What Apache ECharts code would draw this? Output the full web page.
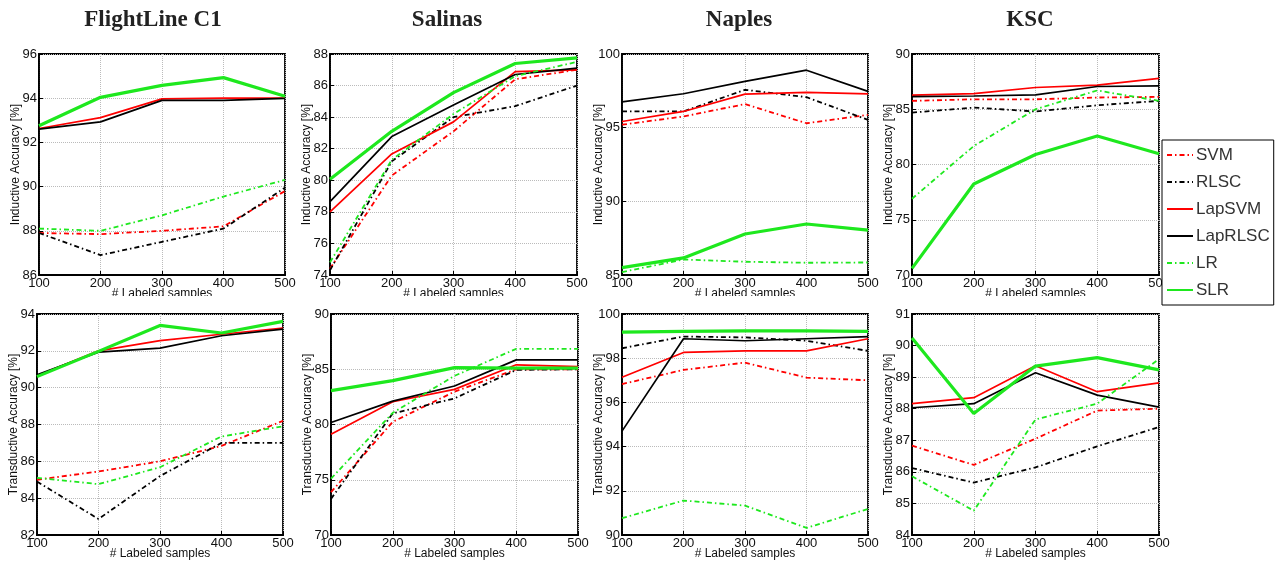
<!DOCTYPE html>
<html lang="en">
<head>
    <meta charset="UTF-8">
    <title>Inductive / Transductive accuracy</title>
    <style>
        html, body { margin: 0; padding: 0; background: #fff; }
        #container { width: 1276px; height: 561px; }
    </style>
    <script src="https://cdn.jsdelivr.net/npm/echarts@6/dist/echarts.min.js"></script>
</head>
<body>
<div id="container"></div>
<script type="text/javascript">
    // x values and names
    const xSamples = [100, 200, 300, 400, 500];
    const datasets = ['FlightLine C1', 'Salinas', 'Naples', 'KSC'];
    const methods = ['SVM', 'RLSC', 'LapSVM', 'LapRLSC', 'LR', 'SLR'];

    // inductive accuracy, one row per dataset
    const svmInd = [
        [87.9, 87.85, 88.0, 88.2, 89.8],
        [74.4, 80.3, 83.1, 86.4, 87.0],
        [95.2, 95.76, 96.6, 95.3, 95.87],
        [85.76, 85.9, 85.9, 86.06, 86.12]
    ];
    const rlscInd = [
        [87.9, 86.9, 87.5, 88.1, 89.95],
        [74.3, 81.2, 84.0, 84.7, 86.0],
        [96.1, 96.1, 97.57, 97.07, 95.53],
        [84.7, 85.15, 84.8, 85.36, 85.76]
    ];
    const lapsvmInd = [
        [92.63, 93.12, 93.97, 94.0, 94.0],
        [78.0, 81.67, 83.7, 86.88, 87.0],
        [95.42, 96.1, 97.28, 97.4, 97.3],
        [86.27, 86.42, 86.97, 87.18, 87.79]
    ];
    const laprlscInd = [
        [92.6, 92.93, 93.9, 93.9, 93.99],
        [78.65, 82.77, 84.77, 86.7, 87.1],
        [96.75, 97.3, 98.14, 98.9, 97.46],
        [86.15, 86.2, 86.3, 87.06, 87.12]
    ];
    const lrInd = [
        [88.1, 88.0, 88.7, 89.55, 90.3],
        [74.8, 81.3, 84.2, 86.6, 87.5],
        [85.2, 86.05, 85.9, 85.83, 85.85],
        [76.9, 81.67, 85.0, 86.7, 85.76]
    ];
    const slrInd = [
        [92.75, 94.04, 94.58, 94.93, 94.09],
        [80.07, 83.1, 85.55, 87.4, 87.75],
        [85.5, 86.16, 87.78, 88.46, 88.05],
        [70.6, 78.24, 80.9, 82.58, 80.97]
    ];

    // transductive accuracy
    const svmTr = [
        [85.0, 85.45, 86.0, 86.84, 88.2],
        [73.88, 80.24, 82.97, 85.0, 85.0],
        [96.83, 97.47, 97.8, 97.12, 97.0],
        [86.83, 86.22, 87.05, 87.94, 88.0]
    ];
    const rlscTr = [
        [84.9, 82.87, 85.2, 87.0, 87.0],
        [73.27, 81.0, 82.36, 84.94, 85.0],
        [98.45, 98.98, 98.94, 98.79, 98.33],
        [86.12, 85.66, 86.14, 86.81, 87.42]
    ];
    const lapsvmTr = [
        [90.65, 92.0, 92.55, 92.9, 93.24],
        [79.12, 82.06, 83.18, 85.4, 85.24],
        [97.14, 98.26, 98.33, 98.33, 98.88],
        [88.16, 88.35, 89.36, 88.54, 88.82]
    ];
    const laprlscTr = [
        [90.7, 91.93, 92.15, 92.82, 93.18],
        [80.18, 82.12, 83.48, 85.85, 85.85],
        [94.7, 98.88, 98.79, 98.88, 98.98],
        [88.03, 88.16, 89.14, 88.43, 88.05]
    ];
    const lrTr = [
        [85.1, 84.76, 85.68, 87.35, 87.9],
        [75.1, 81.06, 84.4, 86.85, 86.85],
        [90.76, 91.56, 91.33, 90.32, 91.18],
        [85.86, 84.77, 87.66, 88.16, 89.57]
    ];
    const slrTr = [
        [90.6, 91.97, 93.38, 92.97, 93.6],
        [83.06, 83.97, 85.15, 85.1, 85.1],
        [99.18, 99.21, 99.24, 99.24, 99.21],
        [90.24, 87.85, 89.35, 89.62, 89.23]
    ];

    // y axis ranges
    const yMinInd = [86, 74, 85, 70];
    const yMaxInd = [96, 88, 100, 90];
    const yStepInd = [2, 2, 5, 5];
    const yMinTr = [82, 70, 90, 84];
    const yMaxTr = [94, 90, 100, 91];
    const yStepTr = [2, 5, 2, 1];

    var myChart = echarts.init(document.getElementById('container'));

    const green = '#1ee81e';
    const dashDot = [5, 3, 1.5, 3];
    const styles = {
        SVM:     {color: 'red',   type: dashDot, width: 1.8},
        RLSC:    {color: '#000',  type: dashDot, width: 1.8},
        LapSVM:  {color: 'red',   type: 'solid', width: 1.7},
        LapRLSC: {color: '#000',  type: 'solid', width: 1.7},
        LR:      {color: green,   type: dashDot, width: 1.8},
        SLR:     {color: green,   type: 'solid', width: 3.2}
    };
    const indRows = [svmInd, rlscInd, lapsvmInd, laprlscInd, lrInd, slrInd];
    const trRows = [svmTr, rlscTr, lapsvmTr, laprlscTr, lrTr, slrTr];

    // panel boxes
    const colLeftTop = [39, 330, 622, 912];
    const colLeftBot = [37, 331, 622, 912];
    const colWidth = [246, 247, 246, 247];
    const titleCenter = [148, 442, 734, 1025];

    let grid = [], xAxis = [], yAxis = [], series = [], title = [], graphic = [];
    const font = 'Liberation Sans, Arial, sans-serif';

    for (let row = 0; row < 2; row++) {
        for (let c = 0; c < 4; c++) {
            let idx = row * 4 + c;
            grid.push({
                left: row == 0 ? colLeftTop[c] : colLeftBot[c],
                top: row == 0 ? 54 : 314,
                width: colWidth[c],
                height: 221,
                show: true,
                borderColor: '#000',
                borderWidth: 1.8,
                backgroundColor: '#fff'
            });
            xAxis.push({
                type: 'value',
                gridIndex: idx,
                min: 100, max: 500, interval: 100,
                name: '# Labeled samples',
                nameLocation: 'middle',
                nameGap: 13,
                nameMoveOverlap: false,
                nameTextStyle: {fontFamily: font, fontSize: 12, color: '#111', verticalAlign: 'top'},
                axisLine: {lineStyle: {color: '#000', width: 1.8}},
                axisTick: {inside: true, length: 4, lineStyle: {color: '#000'}},
                axisLabel: {fontFamily: font, fontSize: 13, color: '#111', margin: 2},
                splitLine: {show: true, lineStyle: {color: '#bbb', type: 'dotted', width: 1}}
            });
            yAxis.push({
                type: 'value',
                gridIndex: idx,
                min: row == 0 ? yMinInd[c] : yMinTr[c],
                max: row == 0 ? yMaxInd[c] : yMaxTr[c],
                interval: row == 0 ? yStepInd[c] : yStepTr[c],
                name: row == 0 ? 'Inductive Accuracy [%]' : 'Transductive Accuracy [%]',
                nameLocation: 'middle',
                nameGap: 17,
                nameMoveOverlap: false,
                nameTextStyle: {fontFamily: font, fontSize: 12, color: '#111'},
                axisLine: {show: true, lineStyle: {color: '#000', width: 1.8}},
                axisTick: {show: true, inside: true, length: 4, lineStyle: {color: '#000'}},
                axisLabel: {fontFamily: font, fontSize: 13, color: '#111', margin: 2},
                splitLine: {show: true, lineStyle: {color: '#bbb', type: 'dotted', width: 1}}
            });
            let rows = row == 0 ? indRows : trRows;
            for (let m = 0; m < methods.length; m++) {
                let vals = rows[m][c];
                series.push({
                    name: methods[m],
                    type: 'line',
                    xAxisIndex: idx,
                    yAxisIndex: idx,
                    symbol: 'none',
                    data: xSamples.map((x, i) => [x, vals[i]]),
                    lineStyle: styles[methods[m]],
                    itemStyle: {color: styles[methods[m]].color},
                    z: 2 + m
                });
            }
        }
        // the lower panels hide the bottom half of the upper x-axis names
        if (row == 0) {
            graphic.push({
                type: 'rect',
                left: 0, top: 296,
                shape: {width: 1160, height: 12},
                style: {fill: '#fff'},
                z: 100
            });
        }
    }

    for (let c = 0; c < 4; c++) {
        title.push({
            text: datasets[c],
            left: titleCenter[c],
            top: 4,
            textAlign: 'center',
            textStyle: {fontFamily: 'Liberation Serif, Times New Roman, serif', fontWeight: 'bold', fontSize: 23, color: '#222'}
        });
    }

    var option = {
        animation: false,
        backgroundColor: '#fff',
        title,
        graphic,
        legend: {
            data: methods,
            orient: 'vertical',
            left: 1162,
            top: 140,
            itemWidth: 26,
            itemHeight: 12,
            itemGap: 9,
            padding: [6, 4, 6, 4],
            borderColor: '#000',
            borderWidth: 1,
            backgroundColor: '#fff',
            itemStyle: {opacity: 0},
            textStyle: {fontFamily: font, fontSize: 17, color: '#333', lineHeight: 18, padding: [0, 0, 0, -2]},
            z: 10
        },
        grid,
        xAxis,
        yAxis,
        series
    };

    myChart.setOption(option);
</script>
</body>
</html>
